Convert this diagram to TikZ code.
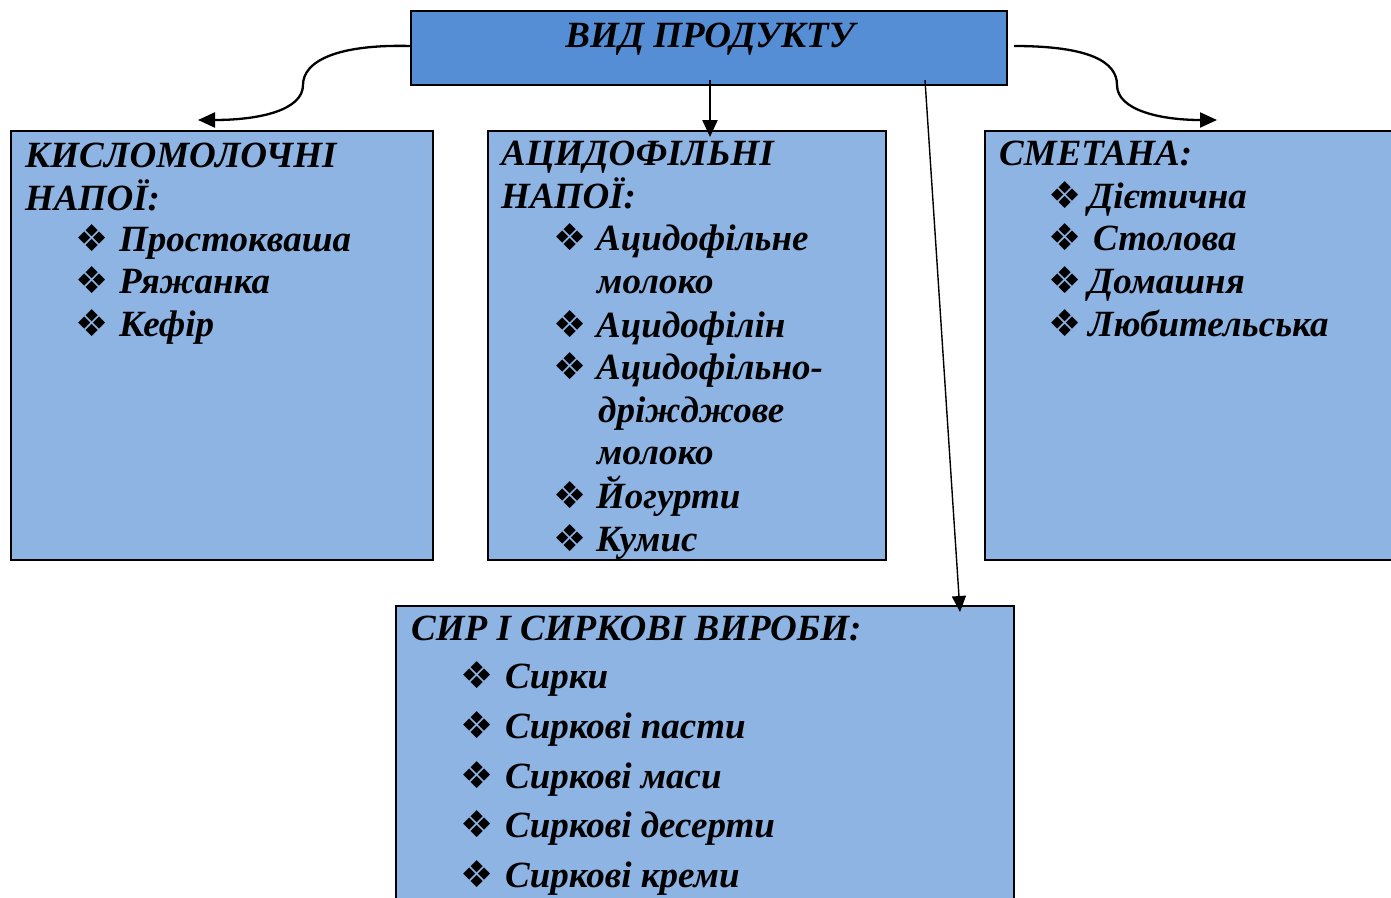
\documentclass[tikz,border=0pt]{standalone}
\usepackage{fontspec}
\setmainfont{Liberation Serif}
\newfontfamily\dv{DejaVu Sans}
\usetikzlibrary{arrows.meta}
\definecolor{topblue}{HTML}{558ED5}
\definecolor{boxblue}{HTML}{8EB4E3}
\newcommand{\blt}[1]{\makebox[#1][l]{\dv\fontsize{37}{37}\selectfont ❖}}
\begin{document}
\begin{tikzpicture}[x=1pt,y=-1pt,
  box/.style={draw=black, line width=2pt, fill=boxblue, anchor=north west, inner sep=0pt, outer sep=0pt},
  topbox/.style={box, fill=topblue},
  txt/.style={anchor=base west, inner sep=0pt, font=\fontsize{37}{43}\selectfont\bfseries\itshape},
  conn/.style={line width=2.3pt, -{Triangle[length=17pt,width=15pt]}},
  thin/.style={line width=1.4pt, -{Triangle[length=16pt,width=14pt]}}]
\clip (0,0) rectangle (1391,897);
% boxes
\node[topbox, minimum width=596pt, minimum height=74pt] (top) at (411,11) {};
\node[box, minimum width=422pt, minimum height=429pt] (b1) at (11,131) {};
\node[box, minimum width=398pt, minimum height=429pt] (b2) at (488,131) {};
\node[box, minimum width=420pt, minimum height=429pt] (b3) at (985,131) {};
\node[box, minimum width=618pt, minimum height=320pt] (b4) at (396,606) {};
% title
\node[anchor=base, inner sep=0pt, font=\fontsize{37}{43}\selectfont\bfseries\itshape] (tt) at (710,47) {ВИД ПРОДУКТУ};
% box 1
\node[txt] (b1t1) at (25,167) {КИСЛОМОЛОЧНІ};
\node[txt] (b1t2) at (25,210) {НАПОЇ:};
\node[txt] (b1i1) at (75,251) {\blt{44pt}Простокваша};
\node[txt] (b1i2) at (75,293) {\blt{44pt}Ряжанка};
\node[txt] (b1i3) at (75,336) {\blt{44pt}Кефір};
% box 2
\node[txt] (b2t1) at (501,165) {АЦИДОФІЛЬНІ};
\node[txt] (b2t2) at (501,208) {НАПОЇ:};
\node[txt] (b2i1) at (553,250) {\blt{43pt}Ацидофільне};
\node[txt] (b2i1b) at (597,293) {молоко};
\node[txt] (b2i2) at (553,337) {\blt{43pt}Ацидофілін};
\node[txt] (b2i3) at (553,379) {\blt{43pt}Ацидофільно-};
\node[txt] (b2i3b) at (598,422) {дріжджове};
\node[txt] (b2i3c) at (597,464) {молоко};
\node[txt] (b2i4) at (553,508) {\blt{43pt}Йогурти};
\node[txt] (b2i5) at (553,551) {\blt{43pt}Кумис};
% box 3
\node[txt] (b3t1) at (999,165) {СМЕТАНА:};
\node[txt] (b3i1) at (1048,208) {\blt{40pt}Дієтична};
\node[txt] (b3i2) at (1048,250) {\blt{45pt}Столова};
\node[txt] (b3i3) at (1048,293) {\blt{40pt}Домашня};
\node[txt] (b3i4) at (1048,336) {\blt{40pt}Любительська};
% box 4
\node[txt] (b4t1) at (411,640) {СИР І СИРКОВІ ВИРОБИ:};
\node[txt] (b4i1) at (460,688) {\blt{45pt}Сирки};
\node[txt] (b4i2) at (460,738) {\blt{45pt}Сиркові пасти};
\node[txt] (b4i3) at (460,788) {\blt{45pt}Сиркові маси};
\node[txt] (b4i4) at (460,837) {\blt{45pt}Сиркові десерти};
\node[txt] (b4i5) at (460,887) {\blt{45pt}Сиркові креми};
% connectors
\coordinate (ls) at (411,46);
\coordinate (le) at (198,120);
\coordinate (rs) at (1014,46);
\coordinate (re) at (1217,120);
\coordinate (ms) at (710,80);
\coordinate (me) at (710,137);
\coordinate (ds) at (925,80);
\coordinate (de) at (960,612);
\draw[conn] (ls) .. controls (335,44) and (303,62) .. (303,85) .. controls (303,110) and (260,120) .. (le);
\draw[conn] (rs) .. controls (1090,46) and (1117,62) .. (1117,85) .. controls (1117,110) and (1160,120) .. (re);
\draw[conn] (ms) -- (me);
\draw[thin] (ds) -- (de);
\end{tikzpicture}
\end{document}
